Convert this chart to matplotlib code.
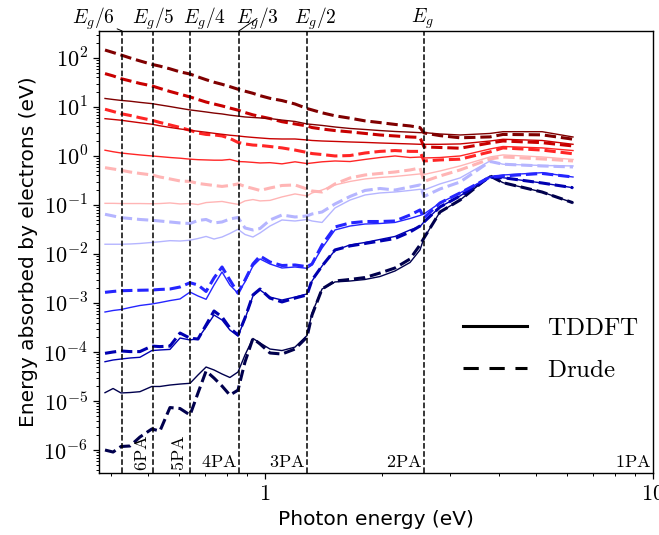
import numpy as np
import matplotlib
matplotlib.use('Agg')
import matplotlib.pyplot as plt
from matplotlib.lines import Line2D
from matplotlib.ticker import FixedLocator, FuncFormatter, LogLocator, NullFormatter

plt.rcParams['mathtext.fontset'] = 'cm'
plt.rcParams['font.family'] = ['DejaVu Sans']

# ---------------- data ----------------
Eg = 2.57  # band gap (eV)
photon_energy = [0.387, 0.406, 0.4255, 0.449, 0.476, 0.511, 0.536, 0.569, 0.604, 0.641,
                 0.672, 0.705, 0.739, 0.775, 0.812, 0.852, 0.888, 0.931, 0.971, 1.030,
                 1.106, 1.195, 1.283, 1.322, 1.403, 1.515, 1.656, 1.811, 1.979, 2.163,
                 2.365, 2.509, 2.569, 2.825, 3.182, 3.802, 4.106, 5.175, 6.221]

# intensity level 8 (highest) ... 1 (lowest)
drude_8 = [145, 129, 115, 100, 87, 74, 68, 60, 52, 47,
           41, 36, 32, 29, 26, 23, 21, 19, 17, 15,
           13.5, 11.5, 9.3, 8.7, 7.6, 6.6, 5.9, 5.2, 4.8, 4.4,
           4.1, 3.8, 2.95, 2.6, 2.35, 2.45, 2.75, 2.7, 2.2]
tddft_8 = [14.9, 14.2, 13.6, 13.1, 12.4, 11.7, 11.0, 10.2, 9.4, 8.7,
           8.3, 7.9, 7.5, 7.2, 6.8, 6.5, 6.25, 6.1, 5.97, 5.8,
           5.4, 5.06, 4.5, 4.4, 4.2, 3.9, 3.64, 3.47, 3.3, 3.16,
           3.06, 2.99, 3.0, 2.81, 2.68, 2.88, 3.13, 3.13, 2.44]
drude_7 = [47.9, 43, 37.8, 34, 30.2, 26.9, 23.9, 20.7, 18.2, 16,
           14.2, 12.6, 11.5, 10.5, 9.5, 8.6, 7.7, 6.9, 6.4, 5.8,
           5.0, 4.5, 4.1, 3.8, 3.55, 3.3, 3.1, 2.88, 2.68, 2.56,
           2.44, 2.39, 1.53, 1.49, 1.44, 1.84, 2.02, 1.87, 1.6]
tddft_7 = [5.77, 5.56, 5.36, 5.06, 4.76, 4.44, 4.13, 3.82, 3.56, 3.34,
           3.19, 3.05, 2.9, 2.77, 2.65, 2.56, 2.47, 2.39, 2.33, 2.25,
           2.22, 2.22, 2.12, 2.07, 2.02, 1.98, 1.93, 1.89, 1.84, 1.80,
           1.76, 1.73, 1.73, 1.73, 1.76, 2.02, 2.19, 2.07, 1.73]
drude_6 = [8.98, 8.09, 7.29, 6.71, 6.03, 5.36, 4.83, 4.3, 3.82, 3.34,
           2.94, 2.75, 2.69, 2.56, 2.28, 1.89, 1.76, 1.67, 1.64, 1.56,
           1.46, 1.32, 1.18, 1.12, 1.07, 1.0, 1.02, 1.15, 1.24, 1.29,
           1.24, 1.24, 0.79, 0.83, 0.86, 1.21, 1.46, 1.32, 1.11]
tddft_6 = [1.31, 1.22, 1.15, 1.10, 1.05, 1.0, 0.97, 0.93, 0.90, 0.86,
           0.84, 0.83, 0.82, 0.82, 0.85, 0.77, 0.76, 0.74, 0.72, 0.73,
           0.69, 0.76, 0.70, 0.72, 0.76, 0.79, 0.77, 0.85, 0.93, 1.0,
           0.93, 0.95, 0.91, 0.93, 1.0, 1.39, 1.56, 1.46, 1.29]
drude_5 = [0.577, 0.543, 0.511, 0.471, 0.44, 0.41, 0.372, 0.34, 0.309, 0.302,
           0.275, 0.262, 0.25, 0.239, 0.25, 0.269, 0.239, 0.217, 0.198, 0.222,
           0.25, 0.256, 0.212, 0.193, 0.184, 0.269, 0.356, 0.41, 0.44, 0.471,
           0.518, 0.569, 0.302, 0.391, 0.518, 0.869, 0.955, 0.869, 0.791]
tddft_5 = [0.108, 0.108, 0.107, 0.107, 0.107, 0.106, 0.107, 0.11, 0.105, 0.107,
           0.102, 0.112, 0.115, 0.118, 0.11, 0.103, 0.121, 0.129, 0.121, 0.124,
           0.146, 0.168, 0.153, 0.176, 0.202, 0.256, 0.302, 0.34, 0.364, 0.382,
           0.41, 0.43, 0.419, 0.494, 0.625, 0.955, 1.05, 0.955, 0.849]
drude_4 = [0.0646, 0.0597, 0.0551, 0.053, 0.0506, 0.0488, 0.0471, 0.045, 0.043, 0.0419,
           0.0483, 0.0506, 0.043, 0.045, 0.0518, 0.0556, 0.034, 0.0309, 0.0331, 0.0494,
           0.0625, 0.0569, 0.0597, 0.0655, 0.0719, 0.105, 0.149, 0.198, 0.217, 0.202,
           0.233, 0.256, 0.149, 0.212, 0.294, 0.773, 0.678, 0.625, 0.597]
tddft_4 = [0.0158, 0.0158, 0.0158, 0.016, 0.0164, 0.0172, 0.0178, 0.0187, 0.0184, 0.0191,
           0.0207, 0.0228, 0.0202, 0.0222, 0.0262, 0.0319, 0.025, 0.0222, 0.0269, 0.0372,
           0.0494, 0.0471, 0.0506, 0.0471, 0.044, 0.0869, 0.126, 0.16, 0.176, 0.184,
           0.198, 0.209, 0.202, 0.269, 0.356, 0.791, 0.678, 0.64, 0.625]
drude_3 = [1.65e-3, 1.72e-3, 1.78e-3, 1.8e-3, 1.82e-3, 1.84e-3, 1.89e-3, 1.93e-3, 2.12e-3, 2.59e-3,
           2.33e-3, 1.72e-3, 3.24e-3, 5.43e-3, 2.94e-3, 1.58e-3, 2.94e-3, 6.25e-3, 9.1e-3, 6.87e-3,
           5.82e-3, 5.97e-3, 5.51e-3, 6.25e-3, 0.0153, 0.0356, 0.043, 0.046, 0.046, 0.0471,
           0.0625, 0.0791, 0.0543, 0.11, 0.176, 0.372, 0.391, 0.44, 0.372]
tddft_3 = [6.55e-4, 7.03e-4, 7.36e-4, 8.09e-4, 8.89e-4, 9.55e-4, 1.02e-3, 1.12e-3, 1.21e-3, 1.67e-3,
           1.39e-3, 1.19e-3, 2.33e-3, 4.3e-3, 2.33e-3, 1.58e-3, 2.69e-3, 5.69e-3, 7.91e-3, 6.25e-3,
           5.18e-3, 5.43e-3, 5.1e-3, 5.97e-3, 0.0132, 0.0309, 0.0372, 0.0409, 0.0419, 0.044,
           0.053, 0.0611, 0.0655, 0.11, 0.176, 0.372, 0.409, 0.456, 0.372]
drude_2 = [9.4e-5, 1.0e-4, 1.05e-4, 1.02e-4, 1.02e-4, 1.32e-4, 1.29e-4, 1.32e-4, 2.44e-4, 1.91e-4,
           1.84e-4, 3.56e-4, 6.87e-4, 5.18e-4, 3.09e-4, 2.22e-4, 4.94e-4, 1.46e-3, 1.93e-3, 1.26e-3,
           1.05e-3, 1.26e-3, 1.46e-3, 2.94e-3, 5.69e-3, 0.0121, 0.0146, 0.0164, 0.0184, 0.0207,
           0.0281, 0.0372, 0.045, 0.091, 0.153, 0.372, 0.36, 0.281, 0.225]
tddft_2 = [6.34e-5, 6.87e-5, 7.19e-5, 7.55e-5, 7.8e-5, 1.07e-4, 1.1e-4, 1.13e-4, 1.93e-4, 1.76e-4,
           1.89e-4, 3.24e-4, 5.69e-4, 4.5e-4, 2.81e-4, 2.12e-4, 4.71e-4, 1.39e-3, 1.84e-3, 1.32e-3,
           1.15e-3, 1.32e-3, 1.53e-3, 2.81e-3, 5.69e-3, 0.0118, 0.0153, 0.0172, 0.0198, 0.0228,
           0.0309, 0.0364, 0.045, 0.091, 0.153, 0.372, 0.36, 0.281, 0.225]
drude_1 = [1.0e-6, 9.1e-7, 1.18e-6, 1.21e-6, 1.84e-6, 2.69e-6, 2.44e-6, 7.36e-6, 7.03e-6, 5.18e-6,
           1.46e-5, 4.09e-5, 2.94e-5, 2.02e-5, 1.32e-5, 1.67e-5, 6.25e-5, 1.89e-4, 1.46e-4, 9.55e-5,
           9.1e-5, 1.15e-4, 2.02e-4, 5.69e-4, 1.93e-3, 2.81e-3, 3.02e-3, 3.31e-3, 4.09e-3, 5.18e-3,
           7.91e-3, 0.0153, 0.0212, 0.0719, 0.126, 0.391, 0.285, 0.184, 0.111]
tddft_1 = [1.48e-5, 1.8e-5, 1.46e-5, 1.49e-5, 1.55e-5, 1.98e-5, 1.98e-5, 2.12e-5, 2.22e-5, 2.3e-5,
           3.4e-5, 4.94e-5, 4.3e-5, 3.56e-5, 3.02e-5, 3.91e-5, 8.69e-5, 1.89e-4, 1.53e-4, 1.15e-4,
           1.07e-4, 1.26e-4, 2.17e-4, 6.25e-4, 1.93e-3, 2.69e-3, 2.81e-3, 3.02e-3, 3.47e-3, 4.5e-3,
           6.71e-3, 0.0121, 0.0212, 0.0719, 0.126, 0.391, 0.285, 0.184, 0.111]

drude_curves = [drude_1, drude_2, drude_3, drude_4, drude_5, drude_6, drude_7, drude_8]
tddft_curves = [tddft_1, tddft_2, tddft_3, tddft_4, tddft_5, tddft_6, tddft_7, tddft_8]

gap_divisors = [6, 5, 4, 3, 2, 1]
gap_labels = [r'$E_g/6$', r'$E_g/5$', r'$E_g/4$', r'$E_g/3$', r'$E_g/2$', r'$E_g$']
pa_labels = ['6PA', '5PA', '4PA', '3PA', '2PA', '1PA']

# ---------------- figure ----------------
fig = plt.figure(figsize=(6.59, 5.35), dpi=100)
ax = fig.add_axes([0.1502, 0.1159, 0.8407, 0.8262])

cmap = plt.get_cmap('seismic')
n = len(drude_curves)
for i in range(n):
    c = cmap(i / (n - 1))
    ax.plot(photon_energy, tddft_curves[i], color=c, lw=1.0, ls='-')
    ax.plot(photon_energy, drude_curves[i], color=c, lw=2.2, ls='--')

ax.set_xscale('log')
ax.set_yscale('log')
ax.set_xlim(0.3734, 10)
ax.set_ylim(3.4e-7, 355)

# vertical lines at Eg/n
label_offsets = [-21, 0, 10, 13, 6, -1]
for d, lab, off in zip(gap_divisors, gap_labels, label_offsets):
    xv = Eg / d
    ax.axvline(xv, color='k', ls='--', lw=1.1, zorder=5)
    arrow = dict(arrowstyle='-', color='k', lw=0.7, shrinkA=0, shrinkB=0) if d in (6, 3) else None
    ax.annotate(lab, xy=(xv, 1.0), xycoords=('data', 'axes fraction'),
                xytext=(off, 9), textcoords='offset points',
                ha='center', va='center', fontsize=14, arrowprops=arrow,
                annotation_clip=False)

# n-photon-absorption labels
pa_right_edges = [Eg / 5, Eg / 4, Eg / 3, Eg / 2, Eg, 10]
for lab, xr in zip(pa_labels, pa_right_edges):
    rot = 90 if lab in ('6PA', '5PA') else 0
    ax.annotate(r'$\mathrm{%s}$' % lab, xy=(xr, 0.0), xycoords=('data', 'axes fraction'),
                xytext=(-1.5, 1.5), textcoords='offset points',
                ha='right', va='bottom', rotation=rot, fontsize=13)

# ticks
ax.xaxis.set_major_locator(FixedLocator([1, 10]))
ax.xaxis.set_major_formatter(FuncFormatter(lambda v, p: r'$%d$' % round(v)))
ax.xaxis.set_minor_locator(LogLocator(base=10, subs=np.arange(2, 10), numticks=50))
ax.xaxis.set_minor_formatter(NullFormatter())
ax.yaxis.set_major_locator(LogLocator(base=10, numticks=30))
ax.yaxis.set_major_formatter(FuncFormatter(lambda v, p: r'$10^{%d}$' % round(np.log10(v))))
ax.yaxis.set_minor_locator(LogLocator(base=10, subs=np.arange(2, 10), numticks=50))
ax.yaxis.set_minor_formatter(NullFormatter())
ax.tick_params(which='major', labelsize=16, length=4.5, width=0.9)
ax.tick_params(which='minor', length=2.5, width=0.7)
for s in ax.spines.values():
    s.set_linewidth(1.0)

ax.set_xlabel('Photon energy (eV)', fontsize=14.5)
ax.set_ylabel('Energy absorbed by electrons (eV)', fontsize=14.5)

handles = [Line2D([], [], color='k', lw=2.2, ls='-'),
           Line2D([], [], color='k', lw=2.2, ls=(0, (5, 3.5)))]
ax.legend(handles, [r'$\mathrm{TDDFT}$', r'$\mathrm{Drude}$'], loc='upper left',
          bbox_to_anchor=(0.657, 0.355), frameon=False, fontsize=18,
          borderpad=0, borderaxespad=0, handlelength=2.55, handletextpad=0.8,
          labelspacing=0.7)

fig.savefig('out.png', dpi=100)
